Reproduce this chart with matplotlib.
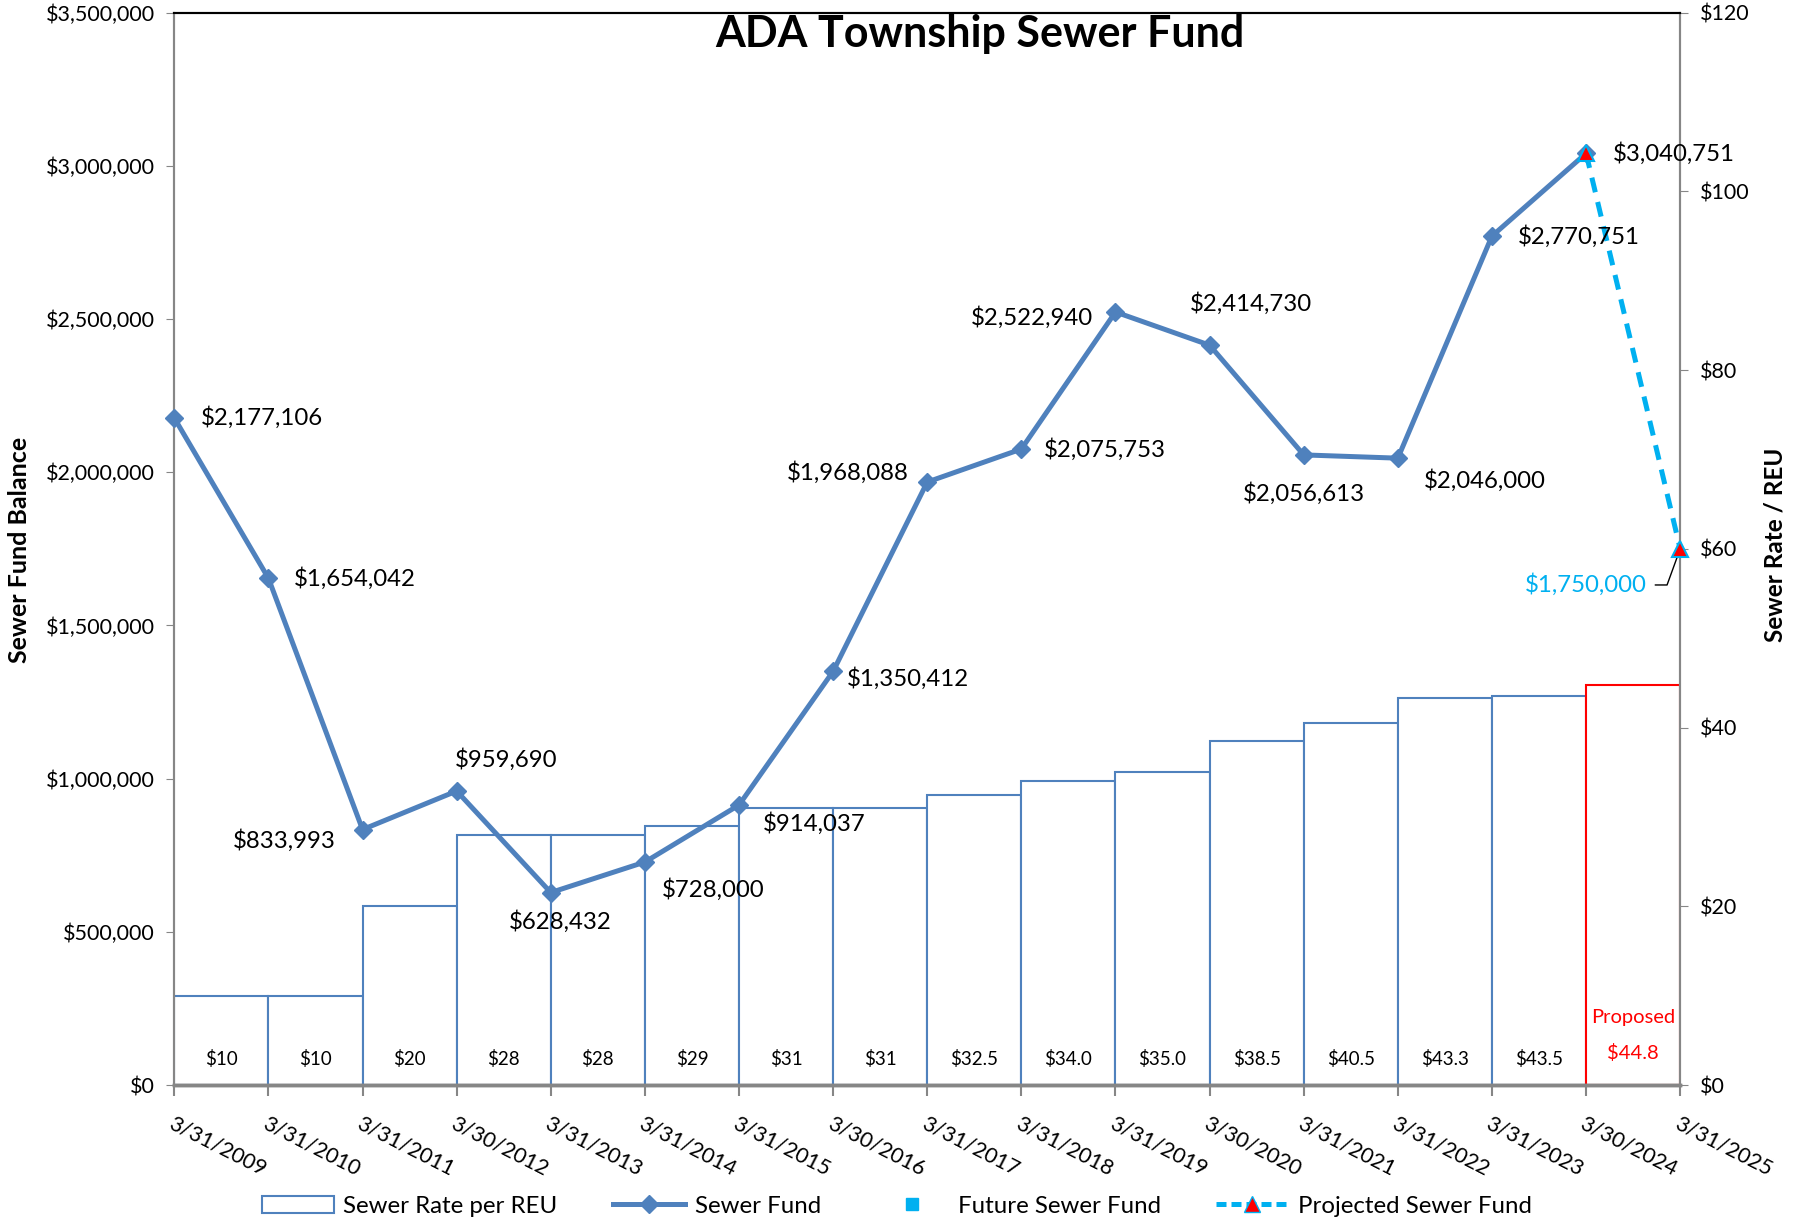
import matplotlib
matplotlib.use("Agg")
import matplotlib.pyplot as plt
from matplotlib.lines import Line2D
from matplotlib.patches import Patch
from matplotlib.ticker import FuncFormatter, MultipleLocator

plt.rcParams['font.family'] = ['Lato', 'DejaVu Sans']

# data
dates = ['3/31/2009', '3/31/2010', '3/31/2011', '3/30/2012', '3/31/2013', '3/31/2014',
         '3/31/2015', '3/30/2016', '3/31/2017', '3/31/2018', '3/31/2019', '3/30/2020',
         '3/31/2021', '3/31/2022', '3/31/2023', '3/30/2024', '3/31/2025']
rates = [10, 10, 20, 28, 28, 29, 31, 31, 32.5, 34.0, 35.0, 38.5, 40.5, 43.3, 43.5, 44.8]
rate_labels = ['$10', '$10', '$20', '$28', '$28', '$29', '$31', '$31', '$32.5', '$34.0',
               '$35.0', '$38.5', '$40.5', '$43.3', '$43.5', '$44.8']
fund = [2177106, 1654042, 833993, 959690, 628432, 728000, 914037, 1350412, 1968088,
        2075753, 2522940, 2414730, 2056613, 2046000, 2770751, 3040751]
proj_idx = [15, 16]
projected = [3040751, 1750000]

blue = '#4F81BD'
cyan = '#00B0F0'
gray = '#868686'

fig = plt.figure(figsize=(17.97, 12.25), dpi=100)
ax = fig.add_axes([0.097, 0.1142, 0.838, 0.8755])
ax2 = ax.twinx()

# rate bars (right axis)
n = len(rates)
colors = [blue] * (n - 1) + ['red']
ax.bar(range(n), rates, width=1.0, align='edge', facecolor='white',
       edgecolor=colors, linewidth=1.5, zorder=2)
for i, (r, lab) in enumerate(zip(rates, rate_labels)):
    c = 'red' if i == n - 1 else 'black'
    y = 3.6 if i == n - 1 else 2.9
    ax.text(i + 0.5, y, lab, ha='center', va='center', fontsize=14.5 if i == n - 1 else 13.5,
            color=c, zorder=3)
ax.text(n - 0.5, 7.6, 'Proposed', ha='center', va='center', fontsize=14.5, color='red')

ax.set_ylim(0, 120)
ax.set_xlim(0, 16)
ax.yaxis.set_major_locator(MultipleLocator(20))
ax.yaxis.set_major_formatter(FuncFormatter(lambda v, p: '${:,.0f}'.format(v)))
ax.yaxis.tick_right()
ax.yaxis.set_label_position('right')
ax.tick_params(axis='y', labelsize=15.5, length=6, color=gray, pad=8)

ax.set_xticks(range(len(dates)))
ax.set_xticklabels(dates, rotation=-27, ha='left', rotation_mode='anchor', fontsize=15.5)
ax.tick_params(axis='x', length=8, color=gray, width=1.5, pad=12)

# fund line (left axis)
ax2.yaxis.tick_left()
ax2.yaxis.set_label_position('left')
ax2.plot(range(len(fund)), fund, color=blue, lw=3.6, marker='D', ms=9, zorder=4,
         clip_on=False)
ax2.plot(proj_idx, projected, color=cyan, lw=3.6, ls=(0, (3, 2)), marker='^', ms=12,
         markerfacecolor='red', markeredgecolor=cyan, markeredgewidth=1.5, zorder=5,
         clip_on=False)
ax2.plot([], [], ls='none', marker='s', color=cyan)
ax2.set_ylim(0, 3500000)
ax2.set_xlim(0, 16)
ax2.yaxis.set_major_locator(MultipleLocator(500000))
ax2.yaxis.set_major_formatter(FuncFormatter(lambda v, p: '${:,.0f}'.format(v)))
ax2.tick_params(axis='y', labelsize=15.5, length=6, color=gray, pad=8)

# label offsets in points (dx, dy, ha)
offs = [(19, 0, 'left'), (18, 0, 'left'), (-19, -8, 'right'), (-1, 23, 'left'),
        (7, -21, 'center'), (12, -20, 'left'), (17, -13, 'left'), (10, -5, 'left'),
        (-13, 7, 'right'), (16, 0, 'left'), (-16, -4, 'right'), (-14, 30, 'left'),
        (0, -28, 'center'), (19, -16, 'left'), (19, 0, 'left'), (19, 0, 'left')]
for i, (v, (dx, dy, ha)) in enumerate(zip(fund, offs)):
    ax2.annotate('${:,.0f}'.format(v), (i, v), xytext=(dx, dy), textcoords='offset points',
                 ha=ha, va='center', fontsize=17.3, zorder=6)
ax2.annotate('${:,.0f}'.format(projected[1]), (proj_idx[1], projected[1]),
             xytext=(-24, -26), textcoords='offset points', ha='right', va='center',
             fontsize=17.3, color=cyan,
             arrowprops=dict(arrowstyle='-', color='black', lw=1,
                             connectionstyle='angle,angleA=0,angleB=70,rad=0',
                             shrinkA=4, shrinkB=2))

for a in (ax, ax2):
    a.spines['top'].set_color('black')
    a.spines['top'].set_linewidth(1.5)
    a.spines['left'].set_color(gray)
    a.spines['left'].set_linewidth(1.5)
    a.spines['right'].set_color(gray)
    a.spines['right'].set_linewidth(1.5)
    a.spines['bottom'].set_color(gray)
    a.spines['bottom'].set_linewidth(2.5)

fig.text(0.545, 0.972, 'ADA Township Sewer Fund', ha='center', va='center',
         fontsize=31, fontweight='bold')
fig.text(0.011, 0.551, 'Sewer Fund Balance', rotation=90, ha='center', va='center',
         fontsize=18, fontweight='bold')
fig.text(0.988, 0.555, 'Sewer Rate / REU', rotation=90, ha='center', va='center',
         fontsize=17.5, fontweight='bold')

handles = [Patch(facecolor='white', edgecolor=blue, linewidth=1.5),
           Line2D([], [], color=blue, lw=3.6, marker='D', ms=9),
           Line2D([], [], ls='none', marker='s', color=cyan, ms=8),
           Line2D([], [], color=cyan, lw=3.6, ls=(0, (2, 1)), marker='^', ms=12,
                  markerfacecolor='red', markeredgecolor=cyan)]
labels = ['Sewer Rate per REU', 'Sewer Fund', 'Future Sewer Fund', 'Projected Sewer Fund']
fig.legend(handles, labels, loc='center', bbox_to_anchor=(0.499, 0.0155), ncol=4,
           frameon=False, fontsize=17.3, handlelength=3.0, handletextpad=0.4,
           columnspacing=2.3)

fig.savefig('out.png', dpi=100)
